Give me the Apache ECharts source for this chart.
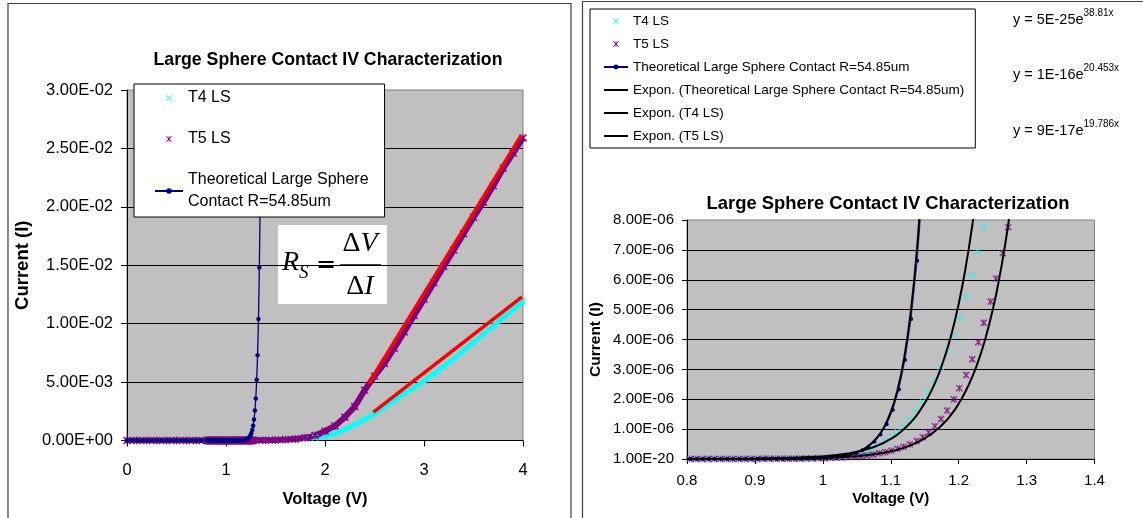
<!DOCTYPE html>
<html><head><meta charset="utf-8">
<script src="https://cdn.jsdelivr.net/npm/echarts@6/dist/echarts.min.js"></script>
<style>html,body{margin:0;padding:0;background:#fff}#c{width:1143px;height:518px}</style>
</head><body><div id="c"></div>
<script>
// ---------------- names ----------------
const T4_NAME = 'T4 LS';
const T5_NAME = 'T5 LS';
const THEO_NAME = 'Theoretical Large Sphere Contact R=54.85um';
const EXP_THEO_NAME = 'Expon. (Theoretical Large Sphere Contact R=54.85um)';
const EXP_T4_NAME = 'Expon. (T4 LS)';
const EXP_T5_NAME = 'Expon. (T5 LS)';
const chartTitle = 'Large Sphere Contact IV Characterization';

// ---------------- tick labels ----------------
const leftXTickLabels = ['0', '1', '2', '3', '4'];
const leftYTickLabels = ['0.00E+00', '5.00E-03', '1.00E-02', '1.50E-02', '2.00E-02', '2.50E-02', '3.00E-02'];
const rightXTickLabels = ['0.8', '0.9', '1', '1.1', '1.2', '1.3', '1.4'];
const rightYTickLabels = ['1.00E-20', '1.00E-06', '2.00E-06', '3.00E-06', '4.00E-06', '5.00E-06', '6.00E-06', '7.00E-06', '8.00E-06'];

// ---------------- measured data (voltage V, current in microamps) ----------------
const t4Voltage = [0, 0.1, 0.2, 0.3, 0.4, 0.5, 0.6, 0.7,
  0.804, 0.813, 0.822, 0.831, 0.840, 0.849, 0.858, 0.867, 0.876, 0.885, 0.894, 0.903, 0.912, 0.921, 0.930, 0.939, 0.948, 0.957, 0.966, 0.975, 0.984, 0.993,
  1.002, 1.011, 1.020, 1.029, 1.038, 1.047, 1.056, 1.065, 1.074, 1.083, 1.092, 1.101, 1.110, 1.119, 1.128, 1.137, 1.147, 1.155, 1.165, 1.174, 1.183, 1.193, 1.202, 1.211, 1.219, 1.228, 1.237,
  1.3, 1.4, 1.5, 1.6, 1.7, 1.8, 1.9, 2.0, 2.1, 2.2, 2.3, 2.4, 2.5, 2.6, 2.7, 2.8, 2.9, 3.0, 3.1, 3.2, 3.3, 3.4, 3.5, 3.6, 3.7, 3.8, 3.9, 4.0];
const t4Current_uA = [0, 0, 0, 0, 0, 0, 0, 0,
  0.003, 0.003, 0.004, 0.004, 0.005, 0.006, 0.006, 0.007, 0.008, 0.009, 0.010, 0.011, 0.012, 0.014, 0.015, 0.017, 0.019, 0.021, 0.024, 0.027, 0.031, 0.036,
  0.045, 0.055, 0.07, 0.09, 0.11, 0.15, 0.2, 0.27, 0.37, 0.47, 0.6, 0.75, 0.91, 1.1, 1.33, 1.61, 1.92, 2.25, 2.64, 3.07, 3.59, 4.15, 4.73, 5.42, 6.16, 6.94, 7.78,
  20, 40, 65, 95, 130, 180, 250, 350, 600, 950, 1350, 1800, 2300, 2850, 3400, 4000, 4550, 5100, 5700, 6350, 7000, 7700, 8400, 9100, 9800, 10500, 11200, 11900];

const t5Voltage = [0, 0.1, 0.2, 0.3, 0.4, 0.5, 0.6, 0.7,
  0.804, 0.813, 0.822, 0.831, 0.840, 0.849, 0.858, 0.867, 0.876, 0.885, 0.894, 0.903, 0.912, 0.921, 0.930, 0.939, 0.948, 0.957, 0.966, 0.975, 0.984, 0.993,
  1.002, 1.011, 1.020, 1.029, 1.038, 1.047, 1.056, 1.065, 1.074, 1.083, 1.092, 1.101, 1.110, 1.119, 1.128, 1.138, 1.147, 1.156, 1.165, 1.174, 1.183, 1.193, 1.201, 1.211, 1.220, 1.229, 1.237, 1.247, 1.255, 1.265, 1.273,
  1.3, 1.4, 1.5, 1.6, 1.7, 1.8, 1.9, 2.0, 2.1, 2.2, 2.3, 2.4, 2.5, 2.6, 2.7, 2.8, 2.9, 3.0, 3.1, 3.2, 3.3, 3.4, 3.5, 3.6, 3.7, 3.8, 3.9, 4.0];
const t5Current_uA = [0, 0, 0, 0, 0, 0, 0, 0,
  0.001, 0.001, 0.001, 0.001, 0.001, 0.002, 0.002, 0.002, 0.003, 0.003, 0.004, 0.004, 0.005, 0.006, 0.007, 0.008, 0.009, 0.010, 0.012, 0.015, 0.018, 0.022,
  0.027, 0.033, 0.04, 0.05, 0.065, 0.08, 0.1, 0.12, 0.15, 0.19, 0.23, 0.28, 0.34, 0.41, 0.49, 0.60, 0.73, 0.89, 1.10, 1.34, 1.62, 2.0, 2.37, 2.81, 3.34, 3.91, 4.56, 5.27, 6.04, 6.89, 7.76,
  12, 22, 40, 75, 130, 230, 420, 800, 1250, 2000, 2900, 4300, 5500, 6600, 7900, 9300, 10700, 12100, 13500, 14900, 16300, 17700, 19100, 20400, 21800, 23300, 24600, 25900];

const theoVoltage = [0, 0.05, 0.1, 0.15, 0.2, 0.25, 0.3, 0.35, 0.4, 0.45, 0.5, 0.55, 0.6, 0.65, 0.7, 0.75,
  0.806, 0.815, 0.824, 0.833, 0.842, 0.851, 0.860, 0.869, 0.878, 0.887, 0.896,
  0.905, 0.914, 0.923, 0.932, 0.941, 0.950, 0.959, 0.968, 0.977, 0.986, 0.995,
  1.004, 1.013, 1.022, 1.031, 1.040, 1.049, 1.058, 1.067, 1.076, 1.085, 1.094,
  1.103, 1.112, 1.121, 1.130, 1.139, 1.148, 1.157, 1.166, 1.175, 1.184, 1.193,
  1.202, 1.211, 1.220, 1.229, 1.238, 1.247, 1.256, 1.265, 1.274, 1.283, 1.292,
  1.301, 1.310, 1.319, 1.328, 1.337, 1.346, 1.355];
const theoCurrent_uA = [0, 0, 0, 0, 0, 0, 0, 0, 0, 0, 0, 0, 0, 0, 0, 0,
  0, 0, 0, 0, 0, 0, 0, 0, 0, 0, 0.0005,
  0.001, 0.001, 0.0015, 0.002, 0.003, 0.0045, 0.006, 0.009, 0.013, 0.018, 0.025,
  0.036, 0.051, 0.072, 0.10, 0.145, 0.20, 0.29, 0.41, 0.58, 0.82, 1.16,
  1.64, 2.33, 3.31, 4.69, 6.64, 9.4, 13.4, 19, 27, 38, 54,
  77, 109, 155, 220, 310, 440, 630, 900, 1270, 1800, 2560,
  3600, 5200, 7300, 10400, 14800, 21000, 30000];

// hand-drawn series-resistance slope lines (left chart)
const slopeT5Voltage = [2.44, 3.98];
const slopeT5Current_uA = [4870, 26100];
const slopeT4Voltage = [2.49, 3.99];
const slopeT4Current_uA = [2430, 12300];

// exponential trendlines as drawn (right chart)
const expTheoVoltage = [0.80, 0.85, 0.90, 0.95, 0.97, 0.99, 1.00, 1.01, 1.02, 1.03, 1.04, 1.045, 1.05, 1.055, 1.06, 1.065, 1.07, 1.075, 1.08, 1.085, 1.09, 1.095, 1.10, 1.105, 1.11, 1.115, 1.12, 1.125, 1.13, 1.135, 1.14, 1.145, 1.15];
const expTheoCurrent_uA = [0, 0.0001, 0.0007, 0.0047, 0.01, 0.022, 0.032, 0.047, 0.07, 0.10, 0.153, 0.186, 0.225, 0.273, 0.33, 0.40, 0.49, 0.59, 0.72, 0.87, 1.06, 1.29, 1.57, 1.90, 2.31, 2.80, 3.41, 4.14, 5.02, 6.10, 7.4, 8.99, 10.9];
const expT4Voltage = [0.80, 0.85, 0.90, 0.95, 1.00, 1.02, 1.04, 1.06, 1.07, 1.08, 1.09, 1.10, 1.105, 1.11, 1.115, 1.12, 1.125, 1.13, 1.135, 1.14, 1.145, 1.15, 1.155, 1.16, 1.165, 1.17, 1.175, 1.18, 1.185, 1.19, 1.195, 1.20, 1.205, 1.21, 1.215, 1.22, 1.225, 1.23];
const expT4Current_uA = [0.0015, 0.004, 0.011, 0.031, 0.087, 0.131, 0.197, 0.296, 0.36, 0.445, 0.545, 0.67, 0.74, 0.82, 0.91, 1.01, 1.12, 1.24, 1.37, 1.52, 1.69, 1.87, 2.07, 2.29, 2.54, 2.81, 3.12, 3.45, 3.82, 4.23, 4.69, 5.19, 5.75, 6.37, 7.06, 7.81, 8.66, 9.59];
const expT5Voltage = [0.80, 0.85, 0.90, 0.95, 1.00, 1.03, 1.05, 1.07, 1.09, 1.10, 1.11, 1.12, 1.13, 1.14, 1.15, 1.16, 1.17, 1.175, 1.18, 1.185, 1.19, 1.195, 1.20, 1.205, 1.21, 1.215, 1.22, 1.225, 1.23, 1.235, 1.24, 1.245, 1.25, 1.255, 1.26, 1.265, 1.27, 1.275, 1.28];
const expT5Current_uA = [0.0007, 0.0019, 0.0049, 0.013, 0.035, 0.063, 0.095, 0.141, 0.21, 0.256, 0.312, 0.38, 0.464, 0.565, 0.69, 0.84, 1.02, 1.13, 1.245, 1.37, 1.52, 1.67, 1.85, 2.04, 2.26, 2.49, 2.75, 3.03, 3.35, 3.70, 4.08, 4.51, 4.98, 5.49, 6.07, 6.70, 7.40, 8.17, 9.02];

const trendEquations = [
  { base: 'y = 5E-25e', exp: '38.81x' },
  { base: 'y = 1E-16e', exp: '20.453x' },
  { base: 'y = 9E-17e', exp: '19.786x' }
];

// ---------------- helpers ----------------
const pairs = (xs, ys) => xs.map((x, i) => [x, ys[i]]);
const SANS = 'Liberation Sans';
const SERIF = 'Liberation Serif';
const CYAN = '#00FFFF', PURPLE = '#800080', NAVY = '#000080', RED = '#FF0000';
const X_PATH = 'path://M0,1L1,0L10,9L9,10Z M9,0L10,1L1,10L0,9Z';
const STAR_PATH = 'path://M0,1.3L1.3,0L10,8.7L8.7,10Z M8.7,0L10,1.3L1.3,10L0,8.7Z M4.3,0L5.7,0L5.7,10L4.3,10Z';
function markIcon(w, h, s, star) {
  const x0 = (w - s) / 2, y0 = (h - s) / 2, k = s / 10;
  const P = (x, y) => (x0 + x * k).toFixed(2) + ',' + (y0 + y * k).toFixed(2);
  let d = 'M0,0 M' + w + ',' + h + ' M' + P(0, 1) + 'L' + P(1, 0) + 'L' + P(10, 9) + 'L' + P(9, 10) + 'Z M' + P(9, 0) + 'L' + P(10, 1) + 'L' + P(1, 10) + 'L' + P(0, 9) + 'Z';
  if (star) d += ' M' + P(4.4, 0) + 'L' + P(5.6, 0) + 'L' + P(5.6, 10) + 'L' + P(4.4, 10) + 'Z';
  return 'path://' + d;
}
function barIcon(w, h, t) {
  const a = (h - t) / 2, b = (h + t) / 2;
  return 'path://M0,0 M' + w + ',' + h + ' M0,' + a + 'L' + w + ',' + a + 'L' + w + ',' + b + 'L0,' + b + 'Z';
}
const tickFmt = (labels, min, step) => v => labels[Math.round((v - min) / step)] || '';

const axisCommon = (tickLen) => ({
  axisLine: { show: true, lineStyle: { color: '#000', width: 1 } },
  axisTick: { show: true, inside: false, length: tickLen, lineStyle: { color: '#000', width: 1 } }
});

const chart = echarts.init(document.getElementById('c'), null, { renderer: 'canvas' });

const option = {
  animation: false,
  backgroundColor: '#fff',
  title: [
    { text: chartTitle, left: 328, top: 51, textAlign: 'center', padding: 0,
      textStyle: { fontFamily: SANS, fontSize: 17.7, fontWeight: 'bold', color: '#000' } },
    { text: chartTitle, left: 888, top: 195, textAlign: 'center', padding: 0,
      textStyle: { fontFamily: SANS, fontSize: 18.4, fontWeight: 'bold', color: '#000' } }
  ],
  grid: [
    { left: 127, top: 90, width: 396, height: 350.5, show: true, backgroundColor: '#C0C0C0', borderColor: '#808080', borderWidth: 1 },
    { left: 687, top: 220, width: 407.5, height: 239, show: true, backgroundColor: '#C0C0C0', borderColor: '#808080', borderWidth: 1 }
  ],
  xAxis: [
    Object.assign(axisCommon(6), {
      type: 'value', gridIndex: 0, min: 0, max: 4, interval: 1,
      splitLine: { show: false },
      name: 'Voltage (V)', nameLocation: 'middle', nameGap: 50,
      axisLabel: { fontFamily: SANS, fontSize: 16.5, color: '#000', margin: 21, formatter: tickFmt(leftXTickLabels, 0, 1) },
      nameTextStyle: { fontFamily: SANS, fontWeight: 'bold', fontSize: 16.5, color: '#000' }
    }),
    Object.assign(axisCommon(5), {
      type: 'value', gridIndex: 1, min: 0.8, max: 1.4, interval: 0.1,
      splitLine: { show: false },
      name: 'Voltage (V)', nameLocation: 'middle', nameGap: 32,
      axisLabel: { fontFamily: SANS, fontSize: 15, color: '#000', margin: 14, formatter: tickFmt(rightXTickLabels, 0.8, 0.1) },
      nameTextStyle: { fontFamily: SANS, fontWeight: 'bold', fontSize: 15, color: '#000' }
    })
  ],
  yAxis: [
    Object.assign(axisCommon(6), {
      type: 'value', gridIndex: 0, min: 0, max: 30000, interval: 5000,
      splitLine: { show: true, showMaxLine: false, lineStyle: { color: '#000', width: 1 } },
      name: 'Current (I)', nameLocation: 'middle', nameGap: 95, nameRotate: 90,
      axisLabel: { fontFamily: SANS, fontSize: 16.5, color: '#000', margin: 14, formatter: tickFmt(leftYTickLabels, 0, 5000) },
      nameTextStyle: { fontFamily: SANS, fontWeight: 'bold', fontSize: 18.5, color: '#000' }
    }),
    Object.assign(axisCommon(5), {
      type: 'value', gridIndex: 1, min: 0, max: 8, interval: 1,
      splitLine: { show: true, showMaxLine: false, lineStyle: { color: '#000', width: 1 } },
      name: 'Current (I)', nameLocation: 'middle', nameGap: 83, nameRotate: 90,
      axisLabel: { fontFamily: SANS, fontSize: 15, color: '#000', margin: 13, formatter: tickFmt(rightYTickLabels, 0, 1) },
      nameTextStyle: { fontFamily: SANS, fontWeight: 'bold', fontSize: 15.5, color: '#000' }
    })
  ],
  legend: [
    {
      orient: 'vertical', left: 134, top: 84, padding: [3, 16, 4, 20],
      itemWidth: 28, itemHeight: 7, itemGap: 19, selectedMode: false,
      backgroundColor: '#fff', borderColor: '#000', borderWidth: 1, borderRadius: 0,
      itemStyle: { borderWidth: 0 },
      textStyle: { fontFamily: SANS, fontSize: 16, color: '#000', lineHeight: 22 },
      formatter: n => n === THEO_NAME ? 'Theoretical Large Sphere\nContact R=54.85um' : n,
      data: [
        { name: T4_NAME, icon: markIcon(28, 7, 6, false), itemStyle: { color: CYAN } },
        { name: T5_NAME, icon: markIcon(28, 7, 6, true), itemStyle: { color: PURPLE } },
        { name: THEO_NAME }
      ]
    },
    {
      orient: 'vertical', left: 590, top: 9, padding: [4, 11, 4, 13],
      itemWidth: 24, itemHeight: 6, itemGap: 7, selectedMode: false,
      backgroundColor: '#fff', borderColor: '#000', borderWidth: 1, borderRadius: 0,
      itemStyle: { borderWidth: 0 },
      textStyle: { fontFamily: SANS, fontSize: 13.5, color: '#000', lineHeight: 16 },
      data: [
        { name: T4_NAME, icon: markIcon(24, 6, 6, false), itemStyle: { color: CYAN } },
        { name: T5_NAME, icon: markIcon(24, 6, 6, true), itemStyle: { color: PURPLE } },
        { name: THEO_NAME },
        { name: EXP_THEO_NAME, icon: barIcon(24, 6, 2), itemStyle: { color: '#000' } },
        { name: EXP_T4_NAME, icon: barIcon(24, 6, 2), itemStyle: { color: '#000' } },
        { name: EXP_T5_NAME, icon: barIcon(24, 6, 2), itemStyle: { color: '#000' } }
      ]
    }
  ],
  series: [
    // ---- left chart ----
    { type: 'line', name: T4_NAME, xAxisIndex: 0, yAxisIndex: 0, data: pairs(t4Voltage, t4Current_uA),
      symbol: X_PATH, symbolSize: 7, showSymbol: true, showAllSymbol: true,
      itemStyle: { color: CYAN }, lineStyle: { color: CYAN, width: 4.5 }, z: 2 },
    { type: 'line', name: T5_NAME, xAxisIndex: 0, yAxisIndex: 0, data: pairs(t5Voltage, t5Current_uA),
      symbol: STAR_PATH, symbolSize: 8, showSymbol: true, showAllSymbol: true,
      itemStyle: { color: PURPLE }, lineStyle: { color: PURPLE, width: 6 }, z: 2 },
    { type: 'line', name: THEO_NAME, xAxisIndex: 0, yAxisIndex: 0, data: pairs(theoVoltage, theoCurrent_uA),
      symbol: 'circle', symbolSize: 4.5, showSymbol: true, showAllSymbol: true,
      itemStyle: { color: NAVY }, lineStyle: { color: NAVY, width: 1.3 }, z: 3 },
    { type: 'line', name: 'Rs slope T5', xAxisIndex: 0, yAxisIndex: 0, data: pairs(slopeT5Voltage, slopeT5Current_uA),
      symbol: 'none', lineStyle: { color: RED, width: 3.5 }, itemStyle: { color: RED }, z: 4 },
    { type: 'line', name: 'Rs slope T4', xAxisIndex: 0, yAxisIndex: 0, data: pairs(slopeT4Voltage, slopeT4Current_uA),
      symbol: 'none', lineStyle: { color: RED, width: 3.5 }, itemStyle: { color: RED }, z: 4 },
    // ---- right chart ----
    { type: 'scatter', name: T4_NAME, xAxisIndex: 1, yAxisIndex: 1, data: pairs(t4Voltage, t4Current_uA),
      symbol: X_PATH, symbolSize: 7, itemStyle: { color: CYAN }, clip: true, z: 2 },
    { type: 'scatter', name: T5_NAME, xAxisIndex: 1, yAxisIndex: 1, data: pairs(t5Voltage, t5Current_uA),
      symbol: STAR_PATH, symbolSize: 7, itemStyle: { color: PURPLE }, clip: true, z: 2 },
    { type: 'line', name: THEO_NAME, xAxisIndex: 1, yAxisIndex: 1, data: pairs(theoVoltage, theoCurrent_uA),
      symbol: 'circle', symbolSize: 4, showSymbol: true, showAllSymbol: true,
      itemStyle: { color: NAVY }, lineStyle: { color: '#3030a0', width: 1 }, z: 3 },
    { type: 'line', name: EXP_THEO_NAME, xAxisIndex: 1, yAxisIndex: 1, data: pairs(expTheoVoltage, expTheoCurrent_uA),
      symbol: 'none', smooth: false, lineStyle: { color: '#000', width: 2 }, itemStyle: { color: '#000' }, z: 4 },
    { type: 'line', name: EXP_T4_NAME, xAxisIndex: 1, yAxisIndex: 1, data: pairs(expT4Voltage, expT4Current_uA),
      symbol: 'none', smooth: false, lineStyle: { color: '#000', width: 2 }, itemStyle: { color: '#000' }, z: 4 },
    { type: 'line', name: EXP_T5_NAME, xAxisIndex: 1, yAxisIndex: 1, data: pairs(expT5Voltage, expT5Current_uA),
      symbol: 'none', smooth: false, lineStyle: { color: '#000', width: 2 }, itemStyle: { color: '#000' }, z: 4 }
  ],
  graphic: [
    // panel frames
    { type: 'rect', z: 0, silent: true, shape: { x: 8, y: 3.5, width: 563, height: 540 }, style: { fill: 'none', stroke: '#404040', lineWidth: 1.2 } },
    { type: 'rect', z: 0, silent: true, shape: { x: 582.5, y: 1.5, width: 620, height: 540 }, style: { fill: 'none', stroke: '#404040', lineWidth: 1.2 } },
    // Rs = dV/dI annotation
    { type: 'group', z: 100, silent: true, children: [
      { type: 'rect', shape: { x: 278, y: 225, width: 109, height: 79 }, style: { fill: '#fff' } },
      { type: 'text', style: { x: 282, y: 263, text: 'R', fontFamily: SERIF, fontStyle: 'italic', fontSize: 28, fill: '#000', verticalAlign: 'middle', textVerticalAlign: 'middle' } },
      { type: 'text', style: { x: 299, y: 273, text: 'S', fontFamily: SERIF, fontStyle: 'italic', fontSize: 19, fill: '#000', verticalAlign: 'middle', textVerticalAlign: 'middle' } },
      { type: 'text', style: { x: 326, y: 266, text: '=', fontFamily: 'DejaVu Serif', fontSize: 24, fill: '#000', align: 'center', textAlign: 'center', verticalAlign: 'middle', textVerticalAlign: 'middle' } },
      { type: 'line', shape: { x1: 340, y1: 265, x2: 381, y2: 265 }, style: { stroke: '#000', lineWidth: 1.4 } },
      { type: 'text', style: { x: 360, y: 244, text: '{d|Δ}{v|V}', align: 'center', textAlign: 'center', verticalAlign: 'middle', textVerticalAlign: 'middle',
        rich: { d: { fontFamily: SERIF, fontSize: 28, fill: '#000' }, v: { fontFamily: SERIF, fontStyle: 'italic', fontSize: 28, fill: '#000' } } } },
      { type: 'text', style: { x: 360, y: 287, text: '{d|Δ}{v|I}', align: 'center', textAlign: 'center', verticalAlign: 'middle', textVerticalAlign: 'middle',
        rich: { d: { fontFamily: SERIF, fontSize: 28, fill: '#000' }, v: { fontFamily: SERIF, fontStyle: 'italic', fontSize: 28, fill: '#000' } } } }
    ] }
  ].concat(trendEquations.map((e, i) => ({
    type: 'text', z: 100, silent: true,
    style: {
      x: 1013, y: [19.5, 75, 131][i], text: '{b|' + e.base + '}{s|' + e.exp + '}',
      align: 'left', textAlign: 'left', verticalAlign: 'middle', textVerticalAlign: 'middle',
      rich: {
        b: { fontFamily: SANS, fontSize: 14.5, fill: '#000', verticalAlign: 'middle', lineHeight: 18 },
        s: { fontFamily: SANS, fontSize: 10, fill: '#000', verticalAlign: 'middle', lineHeight: 12, padding: [0, 0, 13, 0] }
      }
    }
  })))
};
chart.setOption(option);
</script>
</body></html>
